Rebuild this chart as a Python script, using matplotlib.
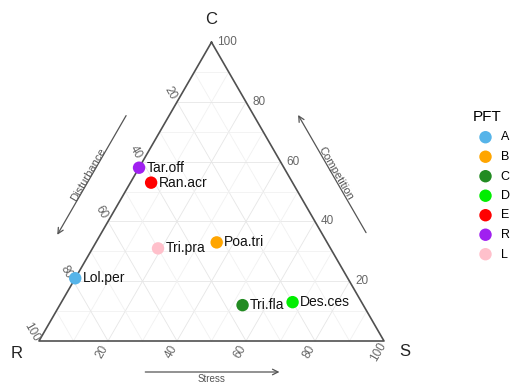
import numpy as np
import matplotlib.pyplot as plt

plt.rcParams['font.family'] = ['Liberation Sans', 'DejaVu Sans']

# species positions in C-S-R space (percent)
species = ["Lol.per", "Tar.off", "Ran.acr", "Tri.pra", "Poa.tri", "Tri.fla", "Des.ces"]
pft = ["A", "R", "E", "L", "B", "C", "D"]
c_val = [21, 58, 53, 31, 33, 12, 13]
r_val = [79, 42, 41, 50, 32, 35, 20]
s_val = [0, 0, 6, 19, 35, 53, 67]

pft_order = ["A", "B", "C", "D", "E", "R", "L"]
pft_colors = ["#56B4E9", "#FFA500", "#228B22", "#00EE00", "#FF0000", "#A020F0", "#FFC0CB"]
tick_vals = [20, 40, 60, 80, 100]

H = np.sqrt(3) / 2
PX = 345.0  # pixels per unit


def tern(c, r, s):
    c, r, s = np.asarray(c) / 100, np.asarray(r) / 100, np.asarray(s) / 100
    tot = c + r + s
    c, s = c / tot, s / tot
    return s + c / 2, c * H


fig = plt.figure(figsize=(5.12, 3.83), dpi=100)
ax = fig.add_axes([0, 0, 1, 1])
ax.set_xlim(-39 / PX, (512 - 39) / PX)
ax.set_ylim((341 - 383) / PX, 341 / PX)
ax.axis('off')

# grid lines every 10
for v in range(10, 100, 10):
    col = '#e6e6e6' if v % 20 == 0 else '#f1f1f1'
    for a, b in [((v, 100 - v, 0), (v, 0, 100 - v)),
                 ((0, v, 100 - v), (100 - v, v, 0)),
                 ((0, 100 - v, v), (100 - v, 0, v))]:
        x0, y0 = tern(*a)
        x1, y1 = tern(*b)
        ax.plot([x0, x1], [y0, y1], color=col, lw=0.6, zorder=1)

# triangle border
tx, ty = tern([100, 0, 0, 100], [0, 100, 0, 0], [0, 0, 100, 0])
ax.plot(tx, ty, color='#505050', lw=1.2, zorder=2)

# vertex labels
ax.text(0.5, H + 23 / PX, "C", ha='center', va='center', fontsize=12, color='#222222')
ax.text(-22 / PX, -12 / PX, "R", ha='center', va='center', fontsize=12, color='#222222')
ax.text(1 + 21 / PX, -11 / PX, "S", ha='center', va='center', fontsize=12, color='#222222')

tick_kw = dict(fontsize=8.5, color='#666666')
for v in tick_vals:
    # left edge: R axis
    x, y = tern(100 - v, v, 0)
    ax.text(x - 7 / PX, y + 9 / PX, str(v), rotation=-60, ha='center', va='center', **tick_kw)
    # bottom edge: S axis
    x, y = tern(0, 100 - v, v)
    ax.text(x - 6 / PX, y - 11 / PX, str(v), rotation=60, ha='center', va='center', **tick_kw)
    # right edge: C axis
    x, y = tern(v, 0, 100 - v)
    ax.text(x + 6 / PX, y, str(v), ha='left', va='center', **tick_kw)

# direction arrows
arr = dict(arrowstyle='->', color='#555555', lw=0.9, mutation_scale=10)
gap = 0.108
nl = np.array([-H, 0.5])
nr = np.array([H, 0.5])
el = np.array([0.5, H])
er = np.array([-0.5, H])
p0 = 0.70 * el + gap * nl
p1 = 0.285 * el + gap * nl
ax.annotate("", xy=p1, xytext=p0, arrowprops=arr)
q0 = np.array([1, 0]) + 0.29 * er + 0.112 * nr
q1 = np.array([1, 0]) + 0.70 * er + 0.112 * nr
ax.annotate("", xy=q1, xytext=q0, arrowprops=arr)
ys = -31 / PX
ax.annotate("", xy=(0.705, ys), xytext=(0.30, ys), arrowprops=arr)

lab_kw = dict(fontsize=8, color='#555555', ha='center', va='center')
m = 0.49 * el + 0.118 * nl
ax.text(m[0], m[1], "Disturbance", rotation=60, **lab_kw)
m = np.array([1, 0]) + 0.49 * er + 0.122 * nr
ax.text(m[0], m[1], "Competition", rotation=-60, **lab_kw)
ax.text(0.5, ys - 1.5 / PX, "Stress", ha='center', va='top', fontsize=7, color='#555555')

# points
px, py = tern(c_val, r_val, s_val)
handles = []
for g, col in zip(pft_order, pft_colors):
    idx = [i for i, p in enumerate(pft) if p == g]
    h = ax.scatter(px[idx], py[idx], s=80, color=col, zorder=4, label=g, edgecolors='none')
    handles.append(h)
for i, name in enumerate(species):
    ax.annotate(name, (px[i], py[i]), xytext=(5.5, 0), textcoords='offset points',
                ha='left', va='center', fontsize=10, color='#111111', zorder=5)

leg = fig.legend(handles=handles, title="PFT", loc='upper left',
                 bbox_to_anchor=(468 / 512, 1 - 105 / 383), frameon=False,
                 fontsize=9, title_fontsize=11, labelspacing=0.6,
                 handletextpad=0.2, alignment='left', borderaxespad=0)

fig.savefig("out.png", dpi=100)
